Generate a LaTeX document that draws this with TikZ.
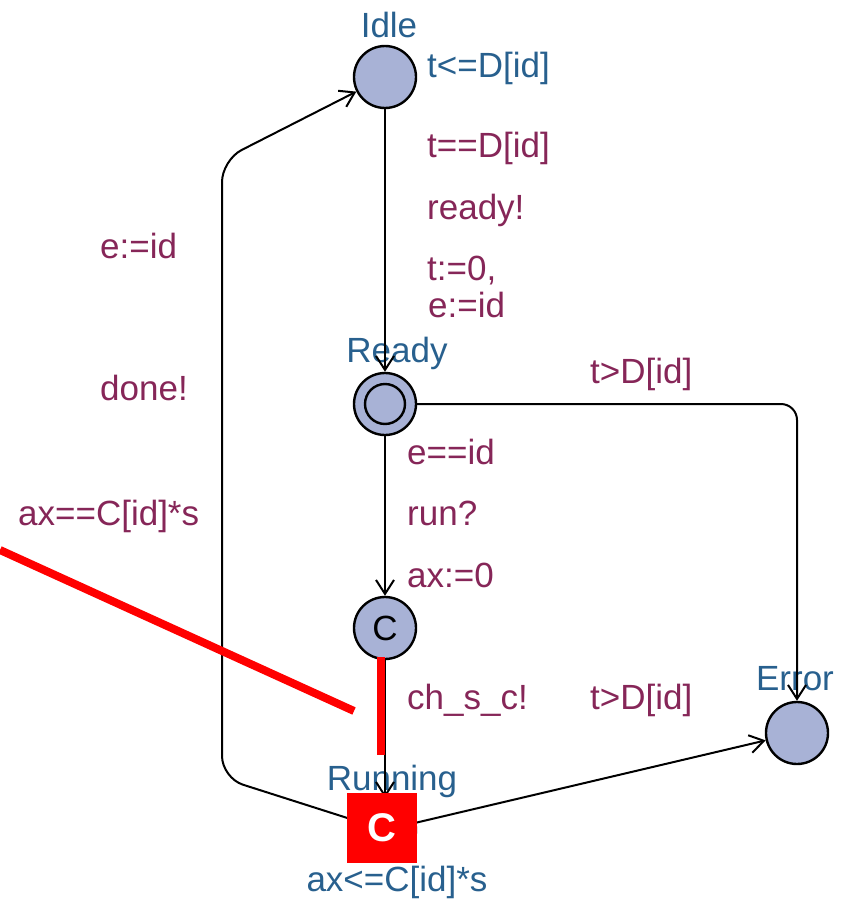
\documentclass[tikz,border=0pt]{standalone}
\usepackage{fontspec}
\setmainfont{Liberation Sans}
\usepackage{xcolor}
\usepackage{tikz}
\usetikzlibrary{positioning, arrows.meta}

\definecolor{locfill}{RGB}{168,178,214}
\definecolor{namecol}{RGB}{40,96,142}
\definecolor{labcol}{RGB}{134,38,88}
\definecolor{markred}{RGB}{255,0,0}

\begin{document}
\begin{tikzpicture}[x=1pt, y=-1pt,
    loc/.style={circle, draw, line width=2.4pt, fill=locfill, minimum size=62pt, inner sep=0pt, font=\fontsize{35}{40}\selectfont},
    nm/.style={text=namecol, font=\fontsize{35}{40}\selectfont, inner sep=0pt},
    lab/.style={text=labcol, font=\fontsize{35}{40}\selectfont, inner sep=0pt, anchor=base west},
    arr/.style={-{Straight Barb[length=14pt, width=18pt]}, line width=2pt}
]
    \useasboundingbox (0,0) rectangle (848,902);

    % locations
    \node[loc] (idle) at (385,77) {};
    \node[loc] (ready) at (385,404) {};
    \draw[line width=2.4pt] (ready.center) circle[radius=20pt];
    \node[loc] (comm) at (385,628) {C};
    \node[loc] (running) at (385,830) {};
    \node[loc] (error) at (797,733) {};

    % names and invariants
    \node[nm, anchor=base] (idlename) at (389,37) {Idle};
    \node[nm, anchor=base west] (idleinv) at (427,77) {t<=D[id]};
    \node[nm, anchor=base] (readyname) at (397,362) {Ready};
    \node[nm, anchor=base] (errorname) at (795,690) {Error};
    \node[nm, anchor=base] (runname) at (392,790) {Running};
    \node[nm, anchor=base] (runinv) at (397,891) {ax<=C[id]*s};

    % edges
    \draw[arr] (idle) -- (ready);
    \draw[arr] (ready) -- (comm);
    \draw[arr] (comm) -- (running);
    \draw[arr, rounded corners=16pt] (ready) -| (error);
    \draw[arr] (running) -- (error);
    \draw[arr, rounded corners=22pt] (running) -- (222,778) -- (222,160) -- (idle);

    % guards, syncs, updates
    \foreach \txt/\x/\y [count=\k] in {t==D[id]/427/157, ready!/427/219, {t:=0,}/427/280,
        e:=id/428/317, t>D[id]/590/383, e==id/407/464, run?/407/525, ax:=0/407/587,
        ch\_s\_c!/407/709, t>D[id]/590/709, e:=id/100/258, done!/100/400, ax==C[id]*s/18/525} {
        \node[lab] (lab\k) at (\x,\y) {\txt};
    }

    % red marks
    \coordinate (ma) at (0,550);
    \coordinate (mb) at (354,711);
    \coordinate (mc) at (381,657);
    \coordinate (md) at (381,755);
    \draw[markred, line width=8pt] (ma) -- (mb);
    \draw[markred, line width=8pt] (mc) -- (md);
    \node[fill=markred, minimum size=70pt, inner sep=0pt, text=white, font=\fontsize{40}{44}\selectfont\bfseries] (mark) at (382,828) {C};
\end{tikzpicture}
\end{document}
